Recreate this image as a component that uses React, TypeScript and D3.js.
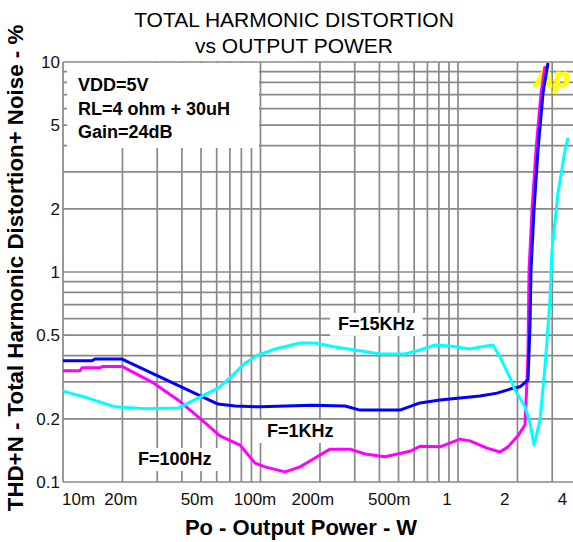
import { useEffect, useRef } from "react";
import * as d3 from "d3";

const W = 573;
const H = 542;

// Output power (W) and THD+N (%)
const power1k = [0.01, 0.01402, 0.01452, 0.0199, 0.0609, 0.0743, 0.0994, 0.1823, 0.2678, 0.3189, 0.5085, 0.6419, 0.8107, 1.0235, 1.2925, 1.576, 1.834, 2.06, 2.262, 2.315, 2.342, 2.425, 2.542, 2.694, 2.856];
const thd1k = [0.378, 0.378, 0.385, 0.385, 0.235, 0.23, 0.228, 0.232, 0.23, 0.22, 0.22, 0.238, 0.246, 0.251, 0.257, 0.265, 0.277, 0.284, 0.306, 0.559, 1.02, 1.97, 3.81, 7.11, 9.9];

const power100 = [0.01, 0.01219, 0.01248, 0.01539, 0.01594, 0.0199, 0.02822, 0.03822, 0.05056, 0.06236, 0.0787, 0.0938, 0.1054, 0.1331, 0.1585, 0.1888, 0.2248, 0.2839, 0.3382, 0.427, 0.5715, 0.6419, 0.8107, 1.0235, 1.15, 1.403, 1.632, 1.791, 2.013, 2.184, 2.236, 2.262, 2.289, 2.37, 2.483, 2.633, 2.757];
const thd100 = [0.339, 0.339, 0.35, 0.35, 0.355, 0.355, 0.299, 0.246, 0.197, 0.166, 0.15, 0.123, 0.118, 0.1117, 0.118, 0.13, 0.1434, 0.1434, 0.136, 0.132, 0.14, 0.148, 0.147, 0.16, 0.157, 0.145, 0.139, 0.147, 0.166, 0.187, 0.306, 0.411, 1.02, 1.97, 3.81, 7.11, 9.56];

const power15k = [0.01, 0.01339, 0.01834, 0.02601, 0.03822, 0.04826, 0.0609, 0.07007, 0.08346, 0.09712, 0.1184, 0.1585, 0.1888, 0.2384, 0.3009, 0.4029, 0.5391, 0.6419, 0.7649, 0.9111, 1.15, 1.2925, 1.504, 1.632, 1.834, 1.944, 2.184, 2.315, 2.425, 2.602, 2.757, 2.923, 2.991, 3.208, 3.483, 3.606];
const thd15k = [0.271, 0.251, 0.228, 0.223, 0.225, 0.251, 0.28, 0.313, 0.368, 0.402, 0.43, 0.459, 0.459, 0.439, 0.425, 0.407, 0.407, 0.425, 0.449, 0.444, 0.43, 0.439, 0.449, 0.394, 0.313, 0.274, 0.228, 0.191, 0.15, 0.197, 0.353, 0.736, 1.27, 2.38, 3.81, 4.35];

const xTickValues = [0.01, 0.02, 0.05, 0.1, 0.2, 0.5, 1, 2, 4];
const xTickLabels = ["10m", "20m", "50m", "100m", "200m", "500m", "1", "2", "4"];
const yTickValues = [0.1, 0.2, 0.5, 1, 2, 5, 10];
const yTickLabels = ["0.1", "0.2", "0.5", "1", "2", "5", "10"];

const seriesNames = ["F=100Hz", "F=1KHz", "F=15KHz"];
const seriesColors = ["#ff00ff", "#0000ff", "#00ffff"];
// label anchors, in data units (power, thd)
const labelPower = [0.02397, 0.1079, 0.2468];
const labelThd = [0.1205, 0.1637, 0.53];

const conditions = ["VDD=5V", "RL=4 ohm + 30uH", "Gain=24dB"];

export default function App() {
  const svgRef = useRef<SVGSVGElement | null>(null);

  useEffect(() => {
    const svg = d3.select(svgRef.current);
    svg.selectAll("*").remove();

    const left = 63;
    const top = 62;
    const bottom = 482;
    const x = d3.scaleLog().domain([0.01, 5]).range([left, left + 197.5 * Math.log10(500)]);
    // tick labels in the original sit on a slightly tighter spacing
    const xLab = d3.scaleLog().domain([0.01, 5]).range([left, left + 192 * Math.log10(500)]);
    const y = d3.scaleLog().domain([0.1, 10]).range([bottom, top]);
    const font = "'Liberation Sans', Arial, sans-serif";
    const gridColor = "#888";

    svg.append("rect").attr("width", W).attr("height", H).attr("fill", "#fff");

    // Grid
    const minors = (lo: number, hi: number) => {
      const out: number[] = [];
      for (let d = lo; d < hi; d *= 10) for (let m = 1; m <= 9; m++) out.push(+(d * m).toPrecision(3));
      return out;
    };
    const vx = minors(0.01, 10).filter((v) => v > 0.01 && v <= 5);
    const hy = minors(0.1, 10).filter((v) => v > 0.1).concat([10]);

    const grid = svg.append("g").attr("stroke", gridColor).attr("stroke-width", 1.7);
    grid.selectAll(".v").data(vx).enter().append("line")
      .attr("x1", (d) => x(d)).attr("x2", (d) => x(d))
      .attr("y1", top).attr("y2", bottom);
    grid.selectAll(".h").data(hy).enter().append("line")
      .attr("x1", left).attr("x2", W)
      .attr("y1", (d) => y(d)).attr("y2", (d) => y(d));
    // axes
    grid.append("line").attr("x1", left).attr("x2", left).attr("y1", top).attr("y2", bottom);
    grid.append("line").attr("x1", left).attr("x2", W).attr("y1", bottom).attr("y2", bottom);

    // Conditions box
    svg.append("rect").attr("x", 67).attr("y", top + 1).attr("width", 192).attr("height", 85).attr("fill", "#fff");
    svg.append("g").selectAll("text").data(conditions).enter().append("text")
      .attr("x", 78).attr("y", (_, i) => 91 + i * 23.5)
      .attr("font-family", font).attr("font-weight", "bold").attr("font-size", 18)
      .attr("fill", "#000").text((d) => d);

    // Title
    svg.append("text").attr("x", 294).attr("y", 27).attr("text-anchor", "middle")
      .attr("font-family", font).attr("font-size", 21).text("TOTAL HARMONIC DISTORTION");
    svg.append("text").attr("x", 294).attr("y", 53).attr("text-anchor", "middle")
      .attr("font-family", font).attr("font-size", 21).text("vs OUTPUT POWER");

    // Y tick labels
    svg.append("g").selectAll("text").data(yTickValues).enter().append("text")
      .attr("x", 60).attr("y", (d) => y(d) + 6)
      .attr("text-anchor", "end").attr("font-family", font).attr("font-size", 17)
      .attr("fill", "#111").text((_, i) => yTickLabels[i]);

    // X tick labels
    svg.append("g").selectAll("text").data(xTickValues).enter().append("text")
      .attr("x", (d, i) => (i === 0 ? xLab(d) - 1 : xLab(d)))
      .attr("y", 505)
      .attr("text-anchor", (_, i) => (i === 0 ? "start" : "middle"))
      .attr("font-family", font).attr("font-size", 17)
      .attr("fill", "#111").text((_, i) => xTickLabels[i]);

    // Axis titles
    svg.append("text").attr("x", 301).attr("y", 535).attr("text-anchor", "middle")
      .attr("font-family", font).attr("font-weight", "bold").attr("font-size", 22)
      .text("Po - Output Power - W");
    svg.append("text").attr("transform", "translate(23,268) rotate(-90)").attr("text-anchor", "middle")
      .attr("font-family", font).attr("font-weight", "bold").attr("font-size", 22.3)
      .text("THD+N - Total Harmonic Distortion+ Noise - %");

    // Curve labels with white backing
    seriesNames.forEach((name, i) => {
      const g = svg.append("g");
      const t = g.append("text").attr("x", x(labelPower[i])).attr("y", y(labelThd[i]))
        .attr("font-family", font).attr("font-weight", "bold").attr("font-size", 18)
        .attr("fill", "#000").text(name);
      const bb = (t.node() as SVGTextElement).getBBox();
      g.insert("rect", "text").attr("x", bb.x - 8).attr("y", bb.y - 1)
        .attr("width", bb.width + 16).attr("height", bb.height + 3).attr("fill", "#fff");
    });

    // Ap logo
    svg.append("text").attr("x", 534).attr("y", 87)
      .attr("font-family", font).attr("font-weight", "bold").attr("font-style", "italic")
      .attr("font-size", 27).attr("fill", "#ffff00")
      .attr("stroke", "#ffff00").attr("stroke-width", 1.2).text("Ap");

    // Curves
    const line = d3.line<[number, number]>().x((d) => x(d[0])).y((d) => y(d[1]));
    const series: [number, number][][] = [
      power100.map((p, i) => [p, thd100[i]]),
      power1k.map((p, i) => [p, thd1k[i]]),
      power15k.map((p, i) => [p, thd15k[i]]),
    ];
    [0, 1, 2].forEach((i) => {
      svg.append("path").datum(series[i]).attr("d", line)
        .attr("fill", "none").attr("stroke", seriesColors[i])
        .attr("stroke-width", 3).attr("stroke-linejoin", "round");
    });
  }, []);

  return (
    <svg
      ref={svgRef}
      width={W}
      height={H}
      style={{ position: "absolute", left: 0, top: 0, display: "block" }}
    />
  );
}
